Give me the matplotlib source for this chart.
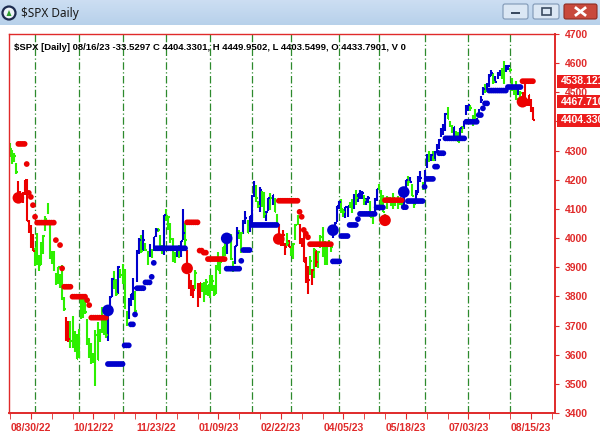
import numpy as np
import matplotlib.pyplot as plt
import matplotlib.transforms as mtransforms
from matplotlib.patches import Rectangle, FancyBboxPatch, Circle, Polygon

# $SPX daily chart with trailing stop, recreated from a platform screenshot
plt.rcParams['font.family'] = ['Liberation Sans', 'DejaVu Sans']

# daily bars 08/16/22 .. 08/16/23, index 0 = 08/16/22
close = [4305, 4274, 4283, 4228, 4138, 4128, 4140, 4199, 4058, 4031,
         3986, 3955, 3966, 3924, 3908, 3980, 4006, 4067, 4110, 3932,
         3946, 3901, 3873, 3900, 3856, 3790, 3758, 3693, 3655, 3647,
         3719, 3640, 3586, 3678, 3791, 3783, 3745, 3640, 3612, 3589,
         3577, 3669, 3583, 3677, 3720, 3695, 3666, 3752, 3797, 3859,
         3831, 3807, 3901, 3872, 3856, 3759, 3720, 3771, 3807, 3828,
         3749, 3956, 3993, 3957, 3992, 3959, 3946, 3965, 3950, 4003,
         4027, 4026, 3964, 3958, 4080, 4076, 4072, 3998, 3941, 3933,
         3963, 3934, 3990, 4019, 3995, 3896, 3852, 3817, 3821, 3879,
         3822, 3845, 3829, 3783, 3849, 3839, 3824, 3853, 3808, 3895,
         3892, 3919, 3969, 3983, 3999, 3991, 3928, 3898, 3972, 4019,
         4017, 4016, 4060, 4070, 4018, 4077, 4119, 4179, 4136, 4111,
         4164, 4118, 4082, 4090, 4137, 4136, 4148, 4090, 4079, 3997,
         3991, 4012, 3970, 3982, 3970, 3951, 3981, 4045, 4048, 3986,
         3992, 3918, 3862, 3855, 3920, 3892, 3960, 3917, 3951, 4002,
         3937, 3948, 3971, 3977, 3971, 4027, 4051, 4109, 4124, 4100,
         4091, 4105, 4109, 4108, 4092, 4146, 4138, 4151, 4154, 4155,
         4130, 4133, 4137, 4072, 4056, 4135, 4169, 4168, 4120, 4091,
         4061, 4136, 4138, 4119, 4138, 4131, 4124, 4136, 4110, 4158,
         4198, 4192, 4192, 4146, 4116, 4151, 4205, 4206, 4180, 4221,
         4282, 4273, 4284, 4268, 4294, 4299, 4338, 4369, 4373, 4426,
         4410, 4389, 4366, 4381, 4348, 4328, 4378, 4377, 4396, 4450,
         4455, 4447, 4412, 4399, 4410, 4439, 4472, 4510, 4505, 4522,
         4555, 4565, 4535, 4536, 4554, 4567, 4566, 4537, 4582, 4589,
         4577, 4513, 4502, 4478, 4518, 4499, 4467.71, 4468, 4464, 4490,
         4437, 4404.33]

high = [4325, 4302, 4292, 4259, 4196, 4160, 4159, 4200, 4204, 4063,
        4044, 4015, 3967, 4018, 3942, 3987, 4010, 4077, 4119, 4062,
        3954, 3957, 3880, 3902, 3878, 3907, 3798, 3728, 3715, 3717,
        3733, 3681, 3671, 3688, 3791, 3807, 3798, 3722, 3657, 3640,
        3606, 3685, 3711, 3689, 3762, 3719, 3736, 3757, 3803, 3862,
        3886, 3859, 3905, 3893, 3911, 3894, 3751, 3796, 3809, 3862,
        3818, 3959, 4001, 4009, 4028, 3983, 3954, 3979, 3962, 4003,
        4034, 4034, 4012, 3976, 4080, 4101, 4076, 4052, 4001, 3951,
        3966, 3977, 3991, 4101, 4052, 3958, 3876, 3855, 3838, 3889,
        3846, 3846, 3846, 3849, 3858, 3840, 3872, 3874, 3840, 3906,
        3951, 3920, 3970, 3997, 4003, 4015, 4015, 3922, 3972, 4039,
        4028, 4020, 4061, 4094, 4063, 4077, 4148, 4196, 4183, 4127,
        4176, 4160, 4157, 4094, 4138, 4156, 4149, 4136, 4083, 4050,
        4004, 4029, 3983, 4018, 3994, 3972, 3984, 4048, 4078, 4050,
        4000, 4018, 3934, 3905, 3937, 3894, 3965, 3958, 3956, 4010,
        4039, 3991, 3972, 3992, 3980, 4030, 4056, 4110, 4128, 4133,
        4100, 4107, 4110, 4125, 4133, 4151, 4164, 4152, 4164, 4162,
        4149, 4138, 4143, 4127, 4089, 4138, 4170, 4184, 4164, 4148,
        4083, 4143, 4142, 4131, 4154, 4132, 4143, 4139, 4136, 4165,
        4199, 4213, 4209, 4187, 4132, 4166, 4212, 4231, 4193, 4232,
        4290, 4300, 4288, 4300, 4299, 4323, 4340, 4376, 4391, 4429,
        4449, 4400, 4387, 4382, 4367, 4363, 4379, 4386, 4400, 4458,
        4456, 4455, 4423, 4442, 4413, 4442, 4489, 4517, 4528, 4532,
        4562, 4578, 4565, 4555, 4568, 4576, 4583, 4607, 4594, 4595,
        4584, 4550, 4519, 4540, 4519, 4503, 4502, 4527, 4477, 4490,
        4478, 4449.95]

low = [4277, 4253, 4261, 4219, 4130, 4124, 4119, 4147, 4057, 4017,
       3965, 3954, 3903, 3907, 3886, 3906, 3944, 4023, 4083, 3929,
       3911, 3887, 3838, 3843, 3828, 3789, 3749, 3647, 3644, 3624,
       3623, 3610, 3584, 3588, 3722, 3726, 3739, 3632, 3590, 3568,
       3571, 3491, 3583, 3645, 3676, 3667, 3656, 3647, 3736, 3799,
       3824, 3803, 3808, 3863, 3843, 3758, 3699, 3722, 3767, 3786,
       3747, 3848, 3945, 3950, 3954, 3954, 3906, 3935, 3933, 3956,
       4002, 4020, 3956, 3944, 3943, 4058, 4027, 3984, 3919, 3916,
       3935, 3933, 3935, 3994, 3965, 3879, 3827, 3800, 3796, 3827,
       3765, 3796, 3814, 3780, 3806, 3800, 3795, 3818, 3802, 3809,
       3890, 3877, 3925, 3937, 3947, 3984, 3926, 3885, 3912, 3973,
       3996, 3949, 4013, 4049, 4017, 4021, 4049, 4142, 4124, 4103,
       4089, 4108, 4070, 4060, 4092, 4096, 4113, 4088, 4048, 3995,
       3974, 3972, 3943, 3974, 3968, 3939, 3928, 3995, 4044, 3980,
       3969, 3917, 3847, 3809, 3874, 3838, 3864, 3901, 3899, 3966,
       3936, 3906, 3909, 3970, 3952, 3999, 4038, 4056, 4099, 4086,
       4073, 4069, 4073, 4102, 4086, 4100, 4113, 4125, 4135, 4134,
       4115, 4114, 4120, 4071, 4049, 4080, 4128, 4164, 4100, 4088,
       4048, 4099, 4123, 4110, 4099, 4110, 4099, 4114, 4109, 4114,
       4150, 4180, 4188, 4146, 4103, 4127, 4155, 4192, 4166, 4180,
       4242, 4261, 4263, 4264, 4266, 4293, 4304, 4346, 4354, 4368,
       4408, 4380, 4360, 4348, 4341, 4328, 4335, 4360, 4375, 4422,
       4437, 4437, 4385, 4398, 4390, 4415, 4464, 4491, 4497, 4504,
       4519, 4557, 4527, 4531, 4545, 4555, 4546, 4528, 4568, 4577,
       4568, 4505, 4491, 4474, 4491, 4464, 4462, 4458, 4453, 4453,
       4432, 4403.55]

# buy / sell signals (bar index)
signal_bars = [4, 47, 85, 104, 129, 155, 180, 189, 246]
signal_side = ['sell', 'buy', 'sell', 'buy', 'sell', 'buy', 'sell', 'buy', 'sell']

# bars painted red during the short periods (others there are green)
red_bars = [4, 5, 6, 7, 8, 9, 10, 11, 27, 28, 85, 86, 87, 88, 90, 91,
            129, 130, 131, 132, 134, 139, 140, 141, 142, 143, 145, 147,
            246, 247, 248, 249, 250, 251]

# trailing stop: (first bar, last bar, level)
stop_runs = [(4, 7, 4323), (8, 8, 4254), (9, 9, 4155), (10, 10, 4141), (11, 11, 4113),
             (12, 12, 4073), (13, 21, 4053), (22, 22, 3993), (24, 24, 3976), (25, 25, 3896),
             (26, 29, 3833), (30, 36, 3799), (37, 37, 3787), (38, 38, 3770), (39, 46, 3727),
             (47, 54, 3568), (55, 57, 3632), (58, 59, 3704), (60, 60, 3738), (61, 64, 3828),
             (65, 67, 3848), (68, 68, 3867), (69, 69, 3915), (70, 84, 3965),
             (85, 90, 4054), (91, 92, 3957), (93, 94, 3950), (95, 103, 3928),
             (104, 110, 3895), (111, 111, 3922), (112, 115, 3959), (116, 128, 4045),
             (129, 138, 4128), (139, 139, 4090), (140, 140, 4073), (141, 141, 4028),
             (142, 142, 4015), (143, 143, 4003), (144, 154, 3979),
             (155, 158, 3920), (159, 162, 4007), (163, 166, 4045), (167, 167, 4065),
             (168, 175, 4083), (176, 179, 4105), (180, 188, 4130),
             (189, 190, 4106), (191, 198, 4127), (199, 199, 4176), (200, 203, 4203),
             (204, 205, 4245), (206, 208, 4291), (209, 218, 4342), (219, 224, 4399),
             (225, 226, 4422), (227, 227, 4445), (228, 229, 4462), (230, 238, 4506),
             (239, 245, 4518), (246, 251, 4538.12)]

# first trading day of each month
month_bars = [12, 33, 54, 75, 96, 116, 135, 158, 177, 199, 220, 240]

tick_bars = [10, 40, 70, 100, 130, 160, 190, 220, 250]
tick_dates = ['08/30/22', '10/12/22', '11/23/22', '01/09/23', '02/22/23',
              '04/05/23', '05/18/23', '07/03/23', '08/15/23']

header = ("$SPX [Daily] 08/16/23 -33.5297 C 4404.3301, H 4449.9502, "
          "L 4403.5499, O 4433.7901, V 0")
value_tags = ['4538.1219', '4467.7100', '4404.3301']

RED = '#ec0000'
GREEN = '#2cf000'
BLUE = '#0000cc'
AXRED = '#e02a2a'

close = np.array(close, dtype=float)
high = np.array(high, dtype=float)
low = np.array(low, dtype=float)
n = len(close)
idx = np.arange(n)

# trend side of every bar
side = np.array([''] * n, dtype=object)
for k, b in enumerate(signal_bars):
    end = signal_bars[k + 1] if k + 1 < len(signal_bars) else n
    side[b:end] = signal_side[k]

colors = []
for i in range(n):
    if side[i] == 'buy':
        colors.append(BLUE if close[i] >= close[i - 1] else GREEN)
    elif side[i] == 'sell':
        colors.append(RED if i in red_bars else GREEN)
    else:
        colors.append(GREEN)

stop = np.full(n, np.nan)
for a, b, v in stop_runs:
    stop[a:b + 1] = v
stop_col = np.where(side == 'buy', BLUE, RED)

W, H = 600, 436
fig = plt.figure(figsize=(6, 4.36), dpi=100)
fig.patch.set_facecolor('white')

# window title bar
tb = fig.add_axes([0, 1 - 25 / H, 1, 25 / H])
grad = np.linspace(0, 1, 25)[:, None, None]
top_c = np.array([0.80, 0.87, 0.95])
bot_c = np.array([0.72, 0.82, 0.92])
tb.imshow(top_c + (bot_c - top_c) * grad * np.ones((1, 2, 1)),
          extent=[0, 600, 25, 0], aspect='auto')
tb.set_xlim(0, 600)
tb.set_ylim(25, 0)
tb.axis('off')
tb.add_patch(Circle((9, 13), 6.5, fc='#eef3f8', ec='#1d2b4f', lw=1.6))
tb.add_patch(Polygon([[6.5, 16], [9, 10], [11.5, 16]], closed=True, fc='#2f9e2f', ec='none'))
tb.text(21, 13.5, '$SPX Daily', fontsize=8.5, family='Noto Sans',
        color='#1a1a1a', va='center', ha='left')
for x0, w in [(503, 25), (533, 26)]:
    tb.add_patch(FancyBboxPatch((x0, 4), w, 15, boxstyle='round,pad=0,rounding_size=2',
                                fc='#dbe7f4', ec='#7f97b5', lw=0.8))
tb.add_patch(Rectangle((511, 12), 9, 2.5, fc='#3a4a60', ec='none'))
tb.add_patch(Rectangle((542, 8), 9, 7, fc='none', ec='#3a4a60', lw=1.2))
tb.add_patch(FancyBboxPatch((564, 4), 33, 15, boxstyle='round,pad=0,rounding_size=2',
                            fc='#c8493c', ec='#8d2c22', lw=0.8))
tb.plot([576, 585], [8, 15], color='white', lw=2)
tb.plot([576, 585], [15, 8], color='white', lw=2)

# main chart
ax = fig.add_axes([9 / W, 1 - 413 / H, 546 / W, 379 / H])
ax.set_xlim(-0.5, 261.6)
ax.set_ylim(3400, 4700)
for s in ax.spines.values():
    s.set_color(AXRED)
    s.set_linewidth(1.0)
ax.spines['right'].set_linewidth(1.4)
ax.spines['bottom'].set_linewidth(1.4)

for m in month_bars:
    ax.axvline(m, color='#2d8a2d', lw=0.9, ls=(0, (6, 2, 1, 2)), zorder=1)

ax.vlines(idx, low, high, colors=colors, lw=1.5, zorder=2)
ax.hlines(close, idx, idx + 0.8, colors=colors, lw=1.5, zorder=2)

ax.scatter(idx, stop, s=17, c=list(stop_col), marker='o', linewidths=0, zorder=3)

sig_col = [BLUE if s == 'buy' else RED for s in signal_side]
ax.scatter(signal_bars, close[signal_bars], s=70, c=sig_col, linewidths=0, zorder=4)

ax.yaxis.tick_right()
ax.set_yticks(np.arange(3400, 4701, 100))
ax.set_yticklabels([str(v) for v in range(3400, 4701, 100)])
ax.tick_params(axis='y', colors=AXRED, length=3, pad=4, labelsize=7.5)
ax.set_xticks(tick_bars)
ax.set_xticklabels(tick_dates)
ax.set_xticks(np.arange(0, 261, 10), minor=True)
ax.tick_params(axis='x', which='both', colors=AXRED, length=4, pad=3, labelsize=7.5)
for lab in ax.get_xticklabels() + ax.get_yticklabels():
    lab.set_fontweight('bold')
    lab.set_color(AXRED)

fig.text(14 / W, 1 - 47 / H, header, fontsize=6.8, fontweight='bold',
         color='black', va='center', ha='left')

# value tags on the right edge
tag_vals = [stop[-1], close[signal_bars[-1]], close[-1]]
tr = mtransforms.blended_transform_factory(fig.transFigure, ax.transData)
for v, t in zip(tag_vals, value_tags):
    r = Rectangle((557 / W, v - 22), 50 / W, 44, transform=tr, fc='#ec1c1c',
                  ec='none', clip_on=False, zorder=10)
    fig.add_artist(r)
    fig.text(561 / W, v, t, transform=tr, fontsize=7.5, fontweight='bold',
             color='white', va='center', ha='left', zorder=11)

fig.savefig('out.png', dpi=100)
